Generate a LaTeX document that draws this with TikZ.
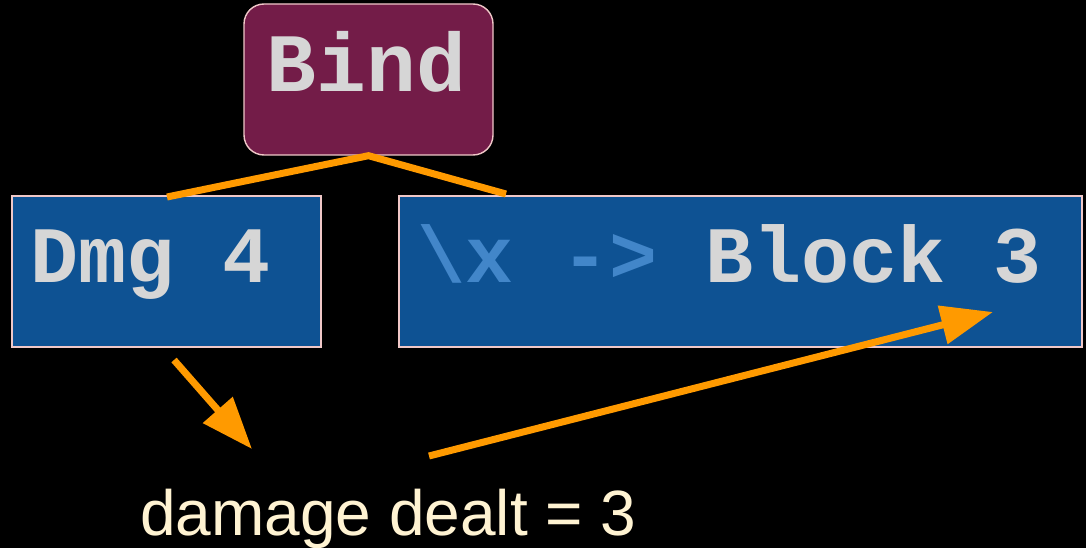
\documentclass[tikz,border=0pt]{standalone}
\usepackage{fontspec}
\setmainfont{Liberation Sans}
\newfontfamily\codefont{Liberation Mono}
\usetikzlibrary{arrows.meta}
\definecolor{bindfill}{HTML}{731C48}
\definecolor{boxfill}{HTML}{0E5293}
\definecolor{edgepink}{HTML}{F0C8C8}
\definecolor{codegrey}{HTML}{D6D6D6}
\definecolor{codefade}{HTML}{4286C9}
\definecolor{flow}{HTML}{FF9A00}
\definecolor{cream}{HTML}{FFF3D2}
\tikzset{
  exprbox/.style={draw=edgepink, line width=1.4pt, fill=boxfill, inner sep=0pt},
  bindbox/.style={exprbox, fill=bindfill, rounded corners=20pt},
  code/.style={font=\codefont\bfseries\fontsize{80}{80}\selectfont, text=codegrey, inner sep=0pt},
  link/.style={draw=flow, line width=7pt},
  flowarrow/.style={link, -{Triangle[length=52pt, width=38pt]}},
  result/.style={font=\fontsize{64}{64}\selectfont, text=cream, inner sep=0pt}
}
\begin{document}
\begin{tikzpicture}[x=1pt, y=-1pt]
  \fill[black] (0,0) rectangle (1086,548);
  \useasboundingbox (0,0) rectangle (1086,548);

  % expression boxes
  \node[bindbox, minimum width=249pt, minimum height=151pt] (bind) at (368.5,79.5) {};
  \node[exprbox, minimum width=309pt, minimum height=151pt] (dmg) at (166.5,271.5) {};
  \node[exprbox, minimum width=683pt, minimum height=151pt] (lam) at (740.5,271.5) {};

  % box contents
  \node[code, font=\codefont\bfseries\fontsize{83}{83}\selectfont, anchor=base] (bindtxt) at (366.5,92) {Bind};
  \node[code, anchor=base west] (dmgtxt) at (30,282) {Dmg 4};
  \node[code, anchor=base west] (lamtxt) at (417,282) {\textcolor{codefade}{\textbackslash x ->} Block 3};

  % tree edges from Bind to its two arguments
  \coordinate (dmgtop) at (167,197);
  \coordinate (lamtop) at (506,194);
  \draw[link] (dmgtop) -- (bind.south) -- (lamtop);

  % result text and the flow arrows
  \node[result, anchor=base west] (dealt) at (140,535) {damage dealt = 3};
  \coordinate (a1s) at (174,360);
  \coordinate (a1e) at (252,449);
  \coordinate (a2s) at (429,456);
  \coordinate (a2e) at (993,312);
  \draw[flowarrow] (a1s) -- (a1e);
  \draw[flowarrow] (a2s) -- (a2e);
\end{tikzpicture}
\end{document}
